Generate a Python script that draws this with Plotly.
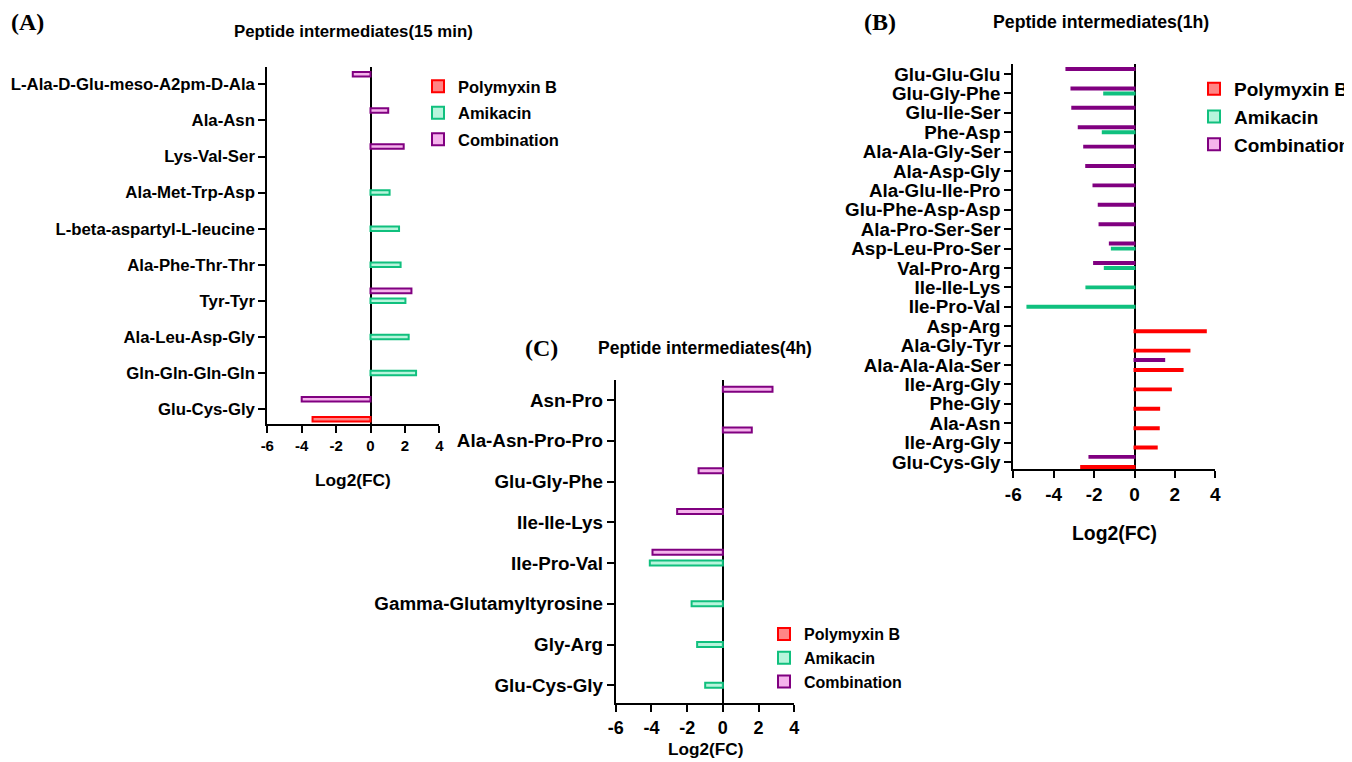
import plotly.graph_objects as go

W, H = 1352, 762
# the page body has an 8px margin; positions below are screen pixels
OFF = 8

# ---------------- data ----------------
series_names = ["Polymyxin B", "Amikacin", "Combination"]

A_cats = ["L-Ala-D-Glu-meso-A2pm-D-Ala", "Ala-Asn", "Lys-Val-Ser", "Ala-Met-Trp-Asp",
          "L-beta-aspartyl-L-leucine", "Ala-Phe-Thr-Thr", "Tyr-Tyr", "Ala-Leu-Asp-Gly",
          "Gln-Gln-Gln-Gln", "Glu-Cys-Gly"]
A_polymyxin = [None, None, None, None, None, None, None, None, None, -3.37]
A_amikacin = [None, None, None, 1.11, 1.66, 1.75, 2.03, 2.22, 2.65, None]
A_combination = [-1.03, 1.03, 1.93, None, None, None, 2.38, None, None, -4.00]

B_cats = ["Glu-Glu-Glu", "Glu-Gly-Phe", "Glu-Ile-Ser", "Phe-Asp", "Ala-Ala-Gly-Ser",
          "Ala-Asp-Gly", "Ala-Glu-Ile-Pro", "Glu-Phe-Asp-Asp", "Ala-Pro-Ser-Ser",
          "Asp-Leu-Pro-Ser", "Val-Pro-Arg", "Ile-Ile-Lys", "Ile-Pro-Val", "Asp-Arg",
          "Ala-Gly-Tyr", "Ala-Ala-Ala-Ser", "Ile-Arg-Gly", "Phe-Gly", "Ala-Asn",
          "Ile-Arg-Gly", "Glu-Cys-Gly"]
B_polymyxin = [None, None, None, None, None, None, None, None, None, None, None, None, None,
               3.53, 2.72, 2.38, 1.80, 1.22, 1.20, 1.10, -2.64]
B_amikacin = [None, -1.50, None, -1.57, None, None, None, None, None, -1.12, -1.47, -2.38,
              -5.30, None, None, None, None, None, None, None, None]
B_combination = [-3.37, -3.12, -3.08, -2.76, -2.49, -2.39, -2.03, -1.77, -1.73, -1.22, -2.00,
                 None, None, None, None, 1.47, None, None, None, None, -2.23]

C_cats = ["Asn-Pro", "Ala-Asn-Pro-Pro", "Glu-Gly-Phe", "Ile-Ile-Lys", "Ile-Pro-Val",
          "Gamma-Glutamyltyrosine", "Gly-Arg", "Glu-Cys-Gly"]
C_polymyxin = [None, None, None, None, None, None, None, None]
C_amikacin = [None, None, None, None, -4.09, -1.75, -1.44, -0.99]
C_combination = [2.78, 1.62, -1.36, -2.56, -3.94, None, None, None]

x_ticks = [-6, -4, -2, 0, 2, 4]

# ---------------- styles ----------------
line_cols = ["#FF0000", "#10C07E", "#800080"]
fill_cols = ["#FF8585", "#B8F5DC", "#F5B4EC"]
FONT = "Liberation Sans, Arial, sans-serif"
SERIF = "Liberation Serif, Times New Roman, serif"


def px_x(p):
    return (p - OFF) / W


def px_y(p):
    return 1 - (p - OFF) / H


fig = go.Figure()

panels = [
    dict(ax="", cats=A_cats, data=[A_polymyxin, A_amikacin, A_combination],
         xd=(267.3, 439.3), yd=(67, 424.3), pad=(0.42, 0.48), off=0.277, bw=0.125,
         leg="legend", grouped=True, ytf=16.8, xtf=15),
    dict(ax="2", cats=B_cats, data=[B_polymyxin, B_amikacin, B_combination],
         xd=(1013.3, 1215.3), yd=(64, 469.3), pad=(0.38, 0.52), off=0.26, bw=0.10,
         leg="legend2", grouped=False, ytf=18.8, xtf=19),
    dict(ax="3", cats=C_cats, data=[C_polymyxin, C_amikacin, C_combination],
         xd=(615.7, 794.3), yd=(380, 703.3), pad=(0.44, 0.49), off=0.265, bw=0.122,
         leg="legend3", grouped=True, ytf=18.8, xtf=18),
]

for p in panels:
    n = len(p["cats"])
    ypos = [n - 1 - i for i in range(n)]
    centers = [-p["off"], 0.0, p["off"]]
    for k, name in enumerate(series_names):
        kw = dict(legendgroup=p["leg"] + name) if p["grouped"] else {}
        fig.add_trace(go.Bar(
            x=p["data"][k], y=ypos, orientation="h", name=name,
            width=p["bw"], offset=centers[k] - p["bw"] / 2,
            marker=dict(color=fill_cols[k], line=dict(color=line_cols[k], width=2)),
            xaxis="x" + p["ax"], yaxis="y" + p["ax"], legend=p["leg"],
            showlegend=True, **kw,
        ))
    xa = dict(domain=[px_x(p["xd"][0]), px_x(p["xd"][1])], range=[-6, 4],
              tickvals=x_ticks, ticktext=[str(v) for v in x_ticks],
              showline=True, linecolor="black", linewidth=2, mirror=False,
              ticks="outside", ticklen=7, tickwidth=2, tickcolor="black",
              zeroline=True, zerolinecolor="black", zerolinewidth=2,
              showgrid=False, anchor="y" + p["ax"], automargin=False,
              tickfont=dict(family=FONT, size=p["xtf"], color="black", weight="bold"))
    ya = dict(domain=[px_y(p["yd"][1]), px_y(p["yd"][0])],
              range=[-p["pad"][0], n - 1 + p["pad"][1]],
              tickvals=ypos, ticktext=p["cats"],
              showline=True, linecolor="black", linewidth=2,
              ticks="outside", ticklen=7, tickwidth=2, tickcolor="black",
              zeroline=False, showgrid=False, anchor="x" + p["ax"], automargin=False,
              tickfont=dict(family=FONT, size=p["ytf"], color="black", weight="bold"))
    fig.update_layout(**{"xaxis" + p["ax"]: xa, "yaxis" + p["ax"]: ya})

legend_common = dict(bgcolor="rgba(0,0,0,0)", borderwidth=0, xanchor="left", yanchor="top",
                     orientation="v")
fig.update_layout(
    legend=dict(x=px_x(418), y=px_y(69), tracegroupgap=2, traceorder="grouped",
                font=dict(family=FONT, size=16.5, color="black", weight="bold"),
                **legend_common),
    legend2=dict(x=px_x(1194), y=px_y(70), tracegroupgap=0, traceorder="normal",
                 font=dict(family=FONT, size=19, color="black", weight="bold"),
                 **legend_common),
    legend3=dict(x=px_x(764), y=px_y(617), tracegroupgap=0, traceorder="normal",
                 font=dict(family=FONT, size=16, color="black", weight="bold"),
                 **legend_common),
)

annots = [
    dict(text="(A)", x=px_x(9), y=px_y(22), xanchor="left", yanchor="middle",
         font=dict(family=SERIF, size=24, color="black", weight="bold")),
    dict(text="(B)", x=px_x(862), y=px_y(22), xanchor="left", yanchor="middle",
         font=dict(family=SERIF, size=24, color="black", weight="bold")),
    dict(text="(C)", x=px_x(523), y=px_y(348), xanchor="left", yanchor="middle",
         font=dict(family=SERIF, size=24, color="black", weight="bold")),
    dict(text="Peptide intermediates(15 min)", x=px_x(353), y=px_y(31), xanchor="center",
         yanchor="middle", font=dict(family=FONT, size=16.8, color="black", weight="bold")),
    dict(text="Peptide intermediates(1h)", x=px_x(1101), y=px_y(22), xanchor="center",
         yanchor="middle", font=dict(family=FONT, size=17.7, color="black", weight="bold")),
    dict(text="Peptide intermediates(4h)", x=px_x(705), y=px_y(348), xanchor="center",
         yanchor="middle", font=dict(family=FONT, size=17.5, color="black", weight="bold")),
    dict(text="Log2(FC)", x=px_x(353), y=px_y(480), xanchor="center", yanchor="middle",
         font=dict(family=FONT, size=17.3, color="black", weight="bold")),
    dict(text="Log2(FC)", x=px_x(1114), y=px_y(533), xanchor="center", yanchor="middle",
         font=dict(family=FONT, size=19.4, color="black", weight="bold")),
    dict(text="Log2(FC)", x=px_x(705), y=px_y(749), xanchor="center", yanchor="middle",
         font=dict(family=FONT, size=17.2, color="black", weight="bold")),
]
for a in annots:
    a.update(xref="paper", yref="paper", showarrow=False)

fig.update_layout(
    width=W, height=H, margin=dict(l=0, r=0, t=0, b=0, autoexpand=False),
    paper_bgcolor="white", plot_bgcolor="white",
    barmode="overlay", annotations=annots,
    font=dict(family=FONT, color="black"),
)

fig.write_html("out.html")
